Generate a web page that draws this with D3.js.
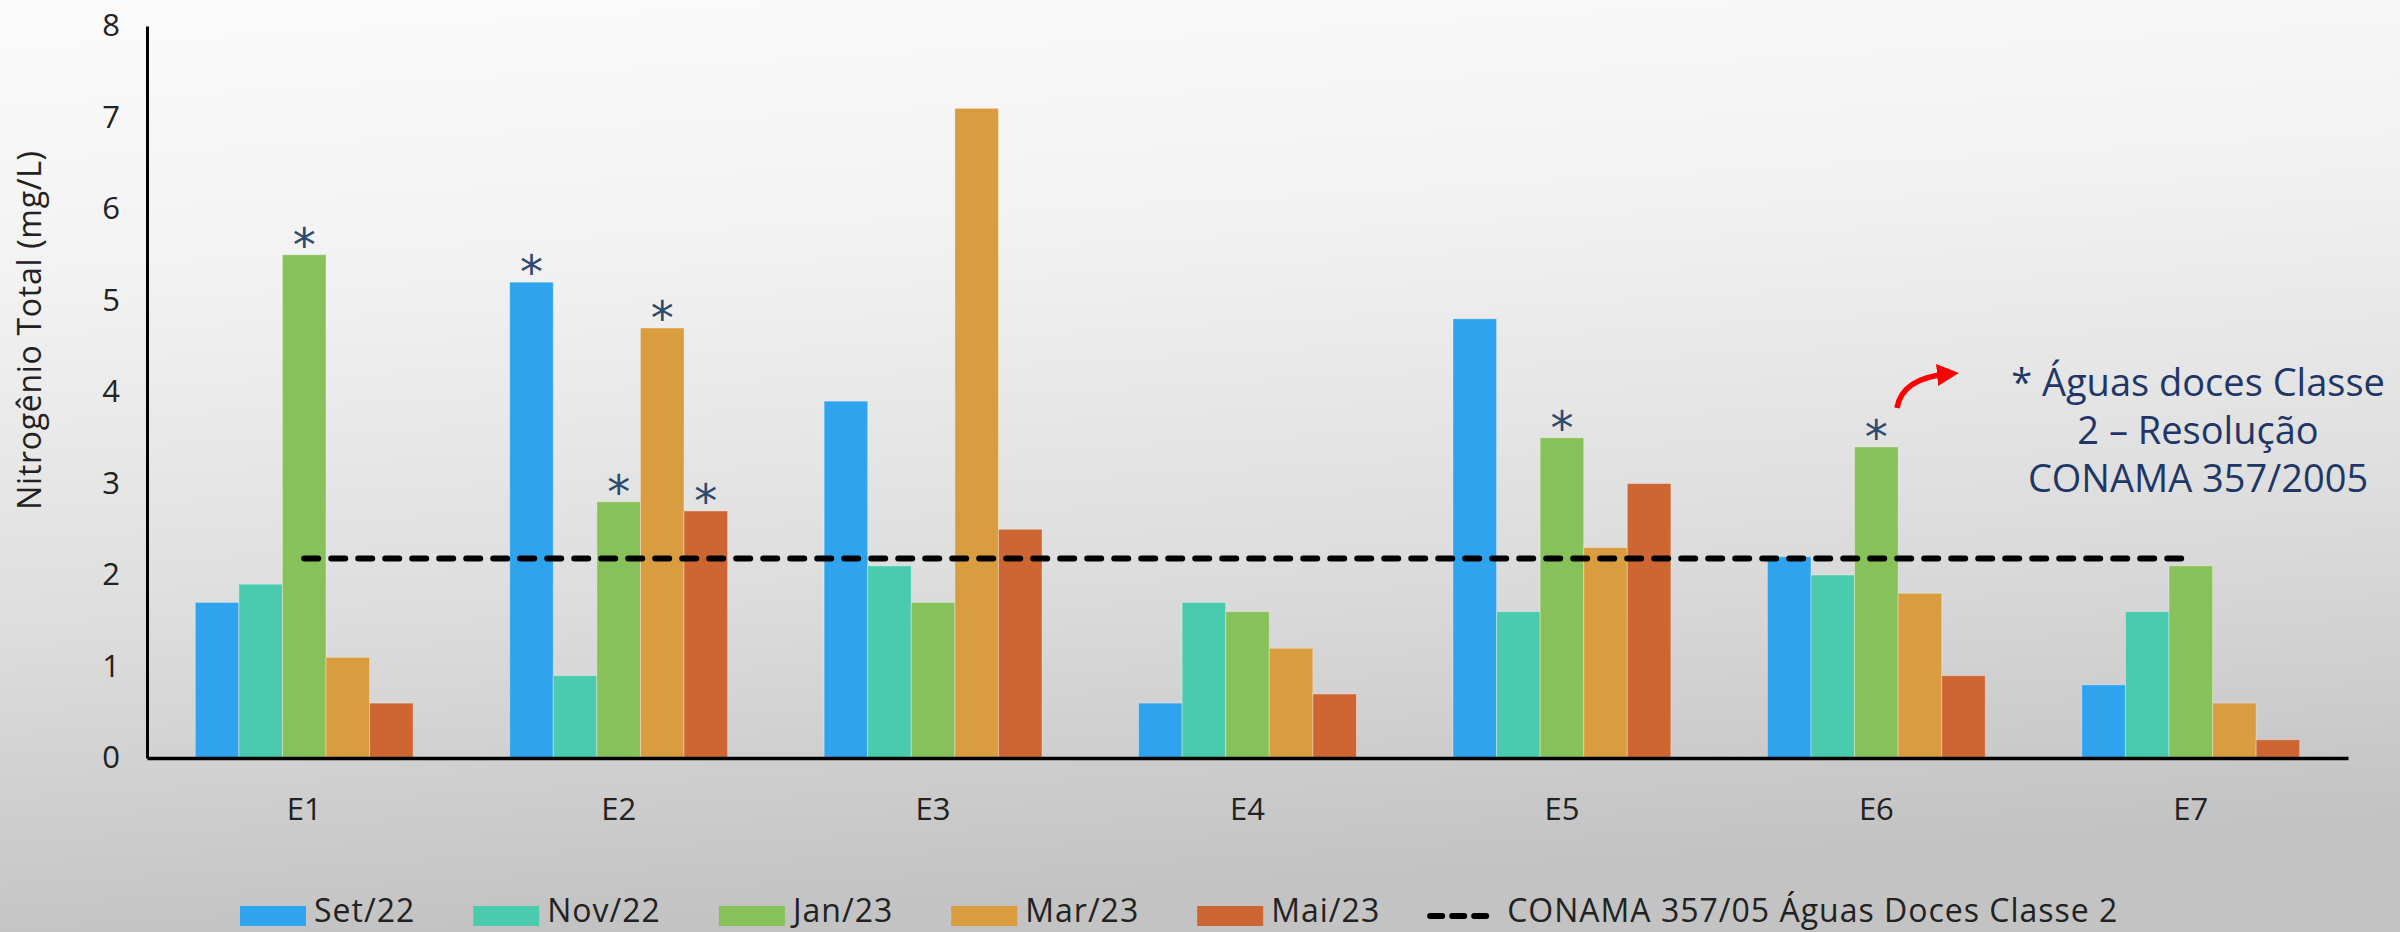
<!DOCTYPE html>
<html lang="pt-BR">
<head>
<meta charset="utf-8">
<script src="https://cdn.jsdelivr.net/npm/d3@7"></script>
<style>
  html, body { margin: 0; padding: 0; background: #e6e6e6; }
  svg { display: block; }
</style>
</head>
<body>
<svg id="chart" width="2400" height="932"></svg>
<script>
// Sampling stations and campaigns
const stations = ["E1", "E2", "E3", "E4", "E5", "E6", "E7"];
const campaigns = ["Set/22", "Nov/22", "Jan/23", "Mar/23", "Mai/23"];

// Total nitrogen (mg/L) per campaign, one value per station
const set22 = [1.7, 5.2, 3.9, 0.6, 4.8, 2.2, 0.8];
const nov22 = [1.9, 0.9, 2.1, 1.7, 1.6, 2.0, 1.6];
const jan23 = [5.5, 2.8, 1.7, 1.6, 3.5, 3.4, 2.1];
const mar23 = [1.1, 4.7, 7.1, 1.2, 2.3, 1.8, 0.6];
const mai23 = [0.6, 2.7, 2.5, 0.7, 3.0, 0.9, 0.2];

// CONAMA 357/05 limit for class 2 fresh waters (mg/L)
const conamaLimit = 2.18;

// Bars flagged with an asterisk: [station, campaign]
const flagged = [
  ["E1", "Jan/23"], ["E2", "Set/22"], ["E2", "Jan/23"], ["E2", "Mar/23"],
  ["E2", "Mai/23"], ["E5", "Jan/23"], ["E6", "Jan/23"]
];

const yTicks = [0, 1, 2, 3, 4, 5, 6, 7, 8];
const colors = ["#2FA3EE", "#4BCBAD", "#87C159", "#D99C3F", "#CD6633"];
const seriesValues = [set22, nov22, jan23, mar23, mai23];

const font = "'Open Sans', 'DejaVu Sans', sans-serif";

const svg = d3.select("#chart");
const W = 2400, H = 932;

// Background: soft light-to-grey gradient
const defs = svg.append("defs");
const bg = defs.append("linearGradient").attr("id", "bg")
  .attr("x1", "0").attr("y1", "0").attr("x2", "0.15").attr("y2", "1");
[["0%", "#fbfbfb"], ["30%", "#f2f2f2"], ["65%", "#dedede"], ["100%", "#c3c3c3"]]
  .forEach(([o, c]) => bg.append("stop").attr("offset", o).attr("stop-color", c));
svg.append("rect").attr("width", W).attr("height", H).attr("fill", "url(#bg)");

const plot = { left: 147, right: 2348, top: 26, bottom: 758 };

const x = d3.scaleBand()
  .domain(stations)
  .range([plot.left, plot.right])
  .paddingInner(0.307)
  .paddingOuter(0.1535);

const xs = d3.scaleBand()
  .domain(campaigns)
  .range([0, x.bandwidth()])
  .padding(0);

const y = d3.scaleLinear().domain([0, 8]).range([plot.bottom, plot.top]);

const rows = stations.map((s, i) => ({
  station: s,
  values: campaigns.map((c, j) => ({ station: s, campaign: c, value: seriesValues[j][i], color: colors[j] }))
}));

// Bars
const groups = svg.append("g").selectAll("g")
  .data(rows).join("g")
  .attr("transform", d => `translate(${x(d.station)},0)`);

groups.selectAll("rect")
  .data(d => d.values).join("rect")
  .attr("x", d => xs(d.campaign))
  .attr("y", d => y(d.value))
  .attr("width", xs.bandwidth())
  .attr("height", d => y(0) - y(d.value))
  .attr("fill", d => d.color)
  .attr("stroke", "rgba(255,255,255,0.35)")
  .attr("stroke-width", 1);

// Asterisks above flagged bars
const lookup = new Map();
rows.forEach(r => r.values.forEach(v => lookup.set(v.station + "|" + v.campaign, v)));
svg.append("g").selectAll("text")
  .data(flagged.map(([s, c]) => lookup.get(s + "|" + c))).join("text")
  .attr("x", d => x(d.station) + xs(d.campaign) + xs.bandwidth() / 2)
  .attr("y", d => y(d.value) + 6)
  .attr("text-anchor", "middle")
  .attr("font-family", "'DejaVu Sans', sans-serif")
  .attr("font-size", 46)
  .attr("fill", "#2E4A6E")
  .text("*");

// CONAMA limit line, from the first to the last station centre
const line = d3.line().x(d => x(d) + x.bandwidth() / 2).y(() => y(conamaLimit));
svg.append("path")
  .attr("d", line([stations[0], stations[stations.length - 1]]))
  .attr("fill", "none")
  .attr("stroke", "#000")
  .attr("stroke-width", 6)
  .attr("stroke-linecap", "round")
  .attr("stroke-dasharray", "14 13");

// Axes
const yAxis = svg.append("g")
  .attr("transform", `translate(${plot.left},0)`)
  .call(d3.axisLeft(y).tickValues(yTicks).tickSize(0).tickPadding(27).tickFormat(d3.format("d")));
yAxis.select(".domain").attr("stroke", "#000").attr("stroke-width", 3);
yAxis.selectAll("text").attr("font-family", font).attr("font-size", 31).attr("fill", "#222");

const xAxis = svg.append("g")
  .attr("transform", `translate(0,${plot.bottom})`)
  .call(d3.axisBottom(x).tickSize(0).tickPadding(40));
xAxis.select(".domain").attr("stroke", "#000").attr("stroke-width", 3.5);
xAxis.selectAll("text").attr("font-family", font).attr("font-size", 31).attr("fill", "#222");

// Y axis title
svg.append("text")
  .attr("transform", "translate(41,330) rotate(-90)")
  .attr("text-anchor", "middle")
  .attr("font-family", font)
  .attr("font-size", 32)
  .attr("letter-spacing", 0.7)
  .attr("fill", "#222")
  .text("Nitrogênio Total (mg/L)");

// Note on the right, with a curved red arrow pointing to it
const note = svg.append("text")
  .attr("text-anchor", "middle")
  .attr("font-family", font)
  .attr("font-size", 38)
  .attr("fill", "#1F3767");
["* Águas doces Classe", "2 – Resolução", "CONAMA 357/2005"].forEach((t, i) => {
  note.append("tspan").attr("x", 2198).attr("y", 396 + i * 48).text(t);
});

defs.append("marker").attr("id", "arrowhead")
  .attr("viewBox", "0 0 10 10").attr("refX", 5).attr("refY", 5)
  .attr("markerWidth", 4).attr("markerHeight", 4)
  .attr("orient", "auto")
  .append("path").attr("d", "M0,0 L10,5 L0,10 Z").attr("fill", "#FF0000");
svg.append("path")
  .attr("d", "M1897,408 Q1902,378 1948,374")
  .attr("fill", "none")
  .attr("stroke", "#FF0000")
  .attr("stroke-width", 5.5)
  .attr("marker-end", "url(#arrowhead)");

// Legend
const legend = svg.append("g").attr("transform", "translate(0,915)");
const legendText = sel => sel.attr("font-family", font).attr("font-size", 32)
  .attr("letter-spacing", 1.0).attr("fill", "#222");
let lx = 240;
campaigns.forEach((c, i) => {
  legend.append("rect").attr("x", lx).attr("y", -9).attr("width", 66).attr("height", 20).attr("fill", colors[i]);
  const t = legend.append("text").attr("x", lx + 74).attr("y", 7).call(legendText).text(c);
  lx += 74 + t.node().getComputedTextLength() + 58;
});
legend.append("line").attr("x1", lx - 8).attr("x2", lx + 52).attr("y1", 1).attr("y2", 1)
  .attr("stroke", "#000").attr("stroke-width", 6).attr("stroke-linecap", "round")
  .attr("stroke-dasharray", "12 10");
legend.append("text").attr("x", lx + 69).attr("y", 7).call(legendText)
  .text("CONAMA 357/05 Águas Doces Classe 2");
</script>
</body>
</html>
